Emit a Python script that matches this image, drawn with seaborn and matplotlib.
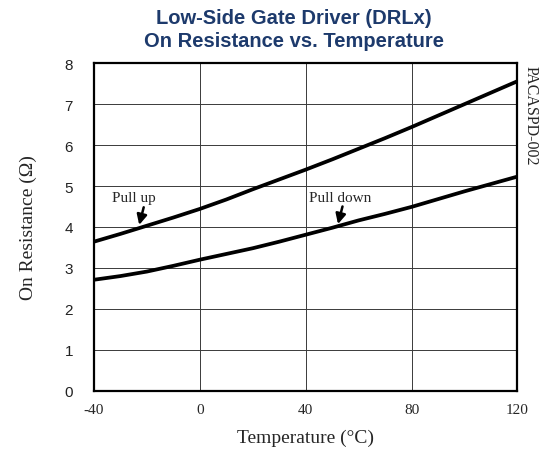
import pandas as pd
import matplotlib
matplotlib.use("Agg")
import matplotlib.pyplot as plt
import seaborn as sns

temps = [-40, -30, -20, -10, 0, 10, 20, 30, 40, 50, 60, 70, 80, 90, 100, 110, 120]
pull_up = [3.64, 3.83, 4.03, 4.23, 4.44, 4.67, 4.92, 5.16, 5.40,
           5.65, 5.91, 6.17, 6.44, 6.72, 7.00, 7.28, 7.56]
pull_down = [2.71, 2.80, 2.91, 3.05, 3.20, 3.34, 3.48, 3.64, 3.81,
             3.98, 4.16, 4.32, 4.49, 4.68, 4.87, 5.05, 5.23]

df = pd.DataFrame({
    "Temperature": temps * 2,
    "R": pull_up + pull_down,
    "curve": ["Pull up"] * len(temps) + ["Pull down"] * len(temps),
})

sns.set_style("white")
plt.rcParams["axes.unicode_minus"] = False
fig, ax = plt.subplots(figsize=(5.43, 4.52), dpi=100)
fig.subplots_adjust(left=0.173, right=0.953, top=0.858, bottom=0.1334)

sns.lineplot(data=df, x="Temperature", y="R", units="curve", estimator=None,
             color="black", linewidth=2.7, ax=ax, legend=False)

ax.set_xlim(-40, 120)
ax.set_ylim(0, 8)
ax.set_xticks([-40, 0, 40, 80, 120])
ax.set_yticks(range(0, 9))
ax.grid(True, color="#3a3a3a", linewidth=0.7)
for s in ax.spines.values():
    s.set_color("black")
    s.set_linewidth(1.6)
ax.tick_params(axis="x", length=0, pad=9)
ax.tick_params(axis="y", length=0, pad=15)
for lab in ax.get_xticklabels():
    lab.set_fontfamily("Liberation Serif")
    lab.set_fontsize(11)
for lab in ax.get_yticklabels():
    lab.set_fontfamily("Liberation Sans")
    lab.set_fontsize(11)
    lab.set_color("#222222")

ax.set_xlabel("Temperature (°C)", fontfamily="Liberation Serif", fontsize=14, labelpad=9)
ax.set_ylabel("On Resistance (Ω)", fontfamily="Liberation Serif", fontsize=14, labelpad=20)

fig.text(0.541, 0.981, "Low-Side Gate Driver (DRLx)\nOn Resistance vs. Temperature",
         fontfamily="Liberation Sans", fontweight="bold", fontsize=14.5,
         color="#1d3a6c", ha="center", va="top", linespacing=1.3)

arrow = dict(arrowstyle="-|>", color="black", lw=1.8, shrinkA=0, shrinkB=0,
             mutation_scale=15)
ax.text(-25, 4.73, "Pull up", fontfamily="Liberation Serif", fontsize=11,
        ha="center", va="center")
ax.annotate("", xy=(-22.9, 4.05), xytext=(-21.2, 4.48), arrowprops=arrow)
ax.text(53.1, 4.73, "Pull down", fontfamily="Liberation Serif", fontsize=11,
        ha="center", va="center")
ax.annotate("", xy=(52.2, 4.07), xytext=(53.9, 4.50), arrowprops=arrow)

fig.text(0.977, 0.855, "PACASPD-002", rotation=-90, ha="center", va="top",
         fontfamily="Liberation Serif", fontsize=11.5)

fig.savefig("out.png", dpi=100)
